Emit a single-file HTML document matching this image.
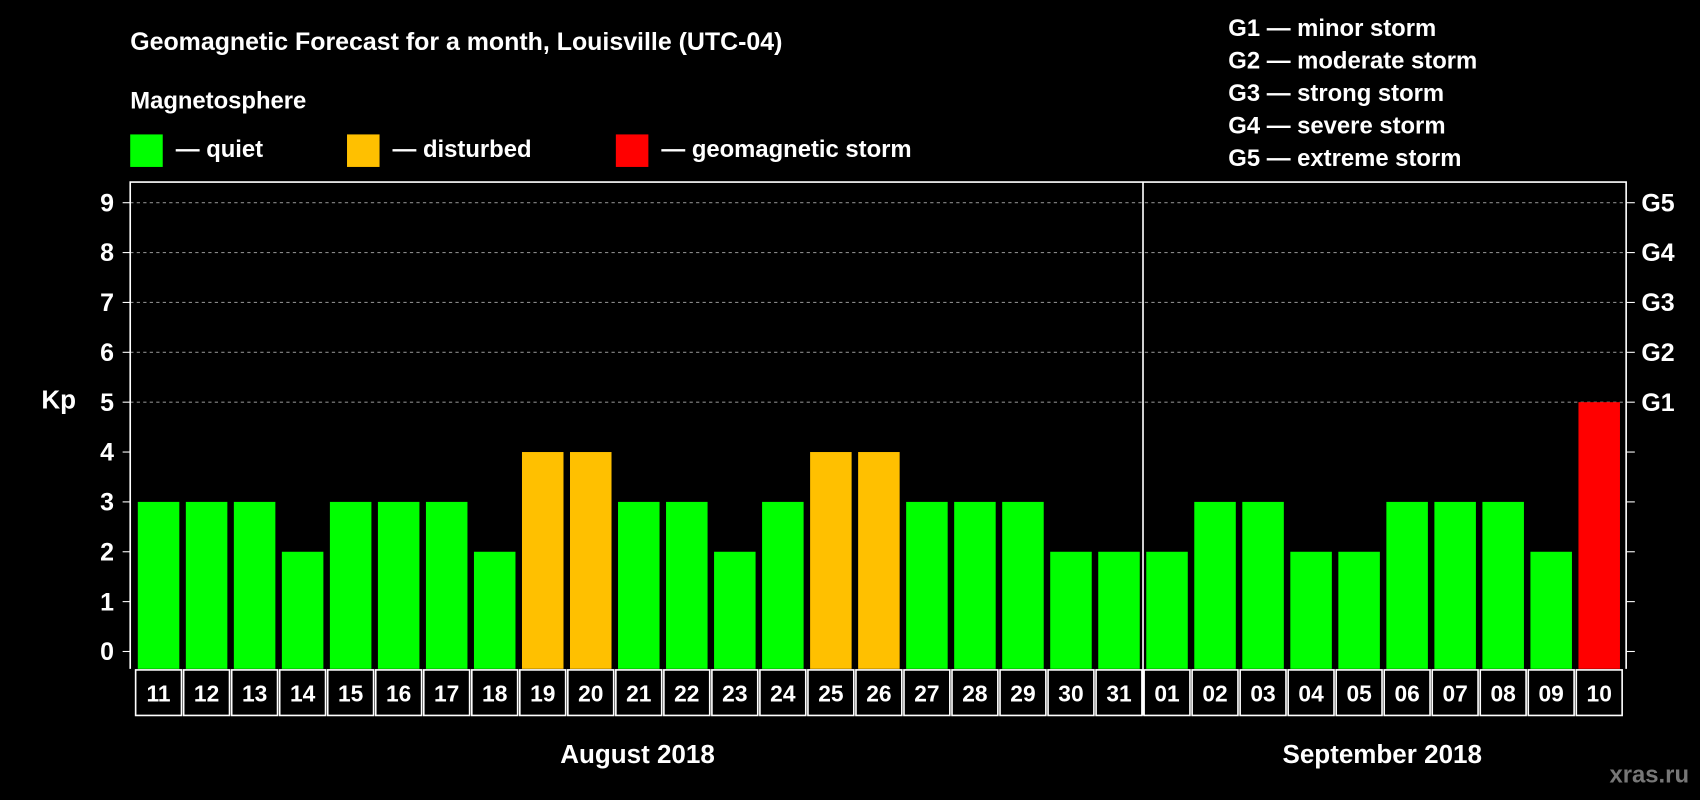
<!DOCTYPE html>
<html><head><meta charset="utf-8"><style>
html,body{margin:0;padding:0;background:#000;}
svg{display:block;}
text{font-family:"Liberation Sans",Arial,sans-serif;font-weight:bold;fill:#fff;}
</style></head><body>
<svg id="chart" width="1700" height="800" viewBox="0 0 1568 738" xmlns="http://www.w3.org/2000/svg">
<rect width="1568" height="738" fill="#000"/>
<text x="120" y="46" font-size="23">Geomagnetic Forecast for a month, Louisville (UTC-04)</text>
<text x="120" y="100" font-size="22">Magnetosphere</text>
<rect x="120" y="124" width="30" height="30" fill="#00ff00"/>
<text x="162" y="145" font-size="22">— quiet</text>
<rect x="320" y="124" width="30" height="30" fill="#ffc000"/>
<text x="362" y="145" font-size="22">— disturbed</text>
<rect x="568" y="124" width="30" height="30" fill="#ff0000"/>
<text x="610" y="145" font-size="22">— geomagnetic storm</text>
<g font-size="22">
<text x="1133" y="33">G1 — minor storm</text>
<text x="1133" y="63">G2 — moderate storm</text>
<text x="1133" y="93">G3 — strong storm</text>
<text x="1133" y="123">G4 — severe storm</text>
<text x="1133" y="153">G5 — extreme storm</text>
</g>
<text x="38" y="377" font-size="24">Kp</text>
<g id="grid"></g>
<g id="bars"></g>
<g id="axes"></g>
<text x="588" y="704" font-size="24" text-anchor="middle">August 2018</text>
<text x="1275" y="704" font-size="24" text-anchor="middle">September 2018</text>
<text x="1558" y="722" font-size="22" text-anchor="end" style="fill:#777">xras.ru</text>
</svg>
<script>
const days = ["11","12","13","14","15","16","17","18","19","20","21","22","23","24","25","26","27","28","29","30","31","01","02","03","04","05","06","07","08","09","10"];
const kpValues = [3,3,3,2,3,3,3,2,4,4,3,3,2,3,4,4,3,3,3,2,2,2,3,3,2,2,3,3,3,2,5];
const yTicks = [0,1,2,3,4,5,6,7,8,9];
const gLabels = ["G1","G2","G3","G4","G5"];
const monthSplit = 21;

const NS = "http://www.w3.org/2000/svg";
const L = 120, R = 1500, T = 168, B = 617, X0 = 124, STEP = 44.3;
const y = v => 601 - 46 * v;
const x = i => X0 + i * STEP;
function mk(tag, attrs, parent) { const e = document.createElementNS(NS, tag); for (const k in attrs) e.setAttribute(k, attrs[k]); parent.appendChild(e); return e; }
const grid = document.getElementById("grid"), bars = document.getElementById("bars"), axes = document.getElementById("axes");

yTicks.forEach(v => {
  if (v >= 5) {
    const g = mk("line", {x1: L, x2: R, y1: y(v), y2: y(v), stroke: "#888", "stroke-dasharray": "3,3", "stroke-width": 1}, grid);
    
    
  }
  const t1 = mk("line", {x1: L - 7, x2: L, y1: y(v), y2: y(v), stroke: "#fff"}, axes);
  
  
  const t2 = mk("line", {x1: R, x2: R + 8, y1: y(v), y2: y(v), stroke: "#fff"}, axes);
  
  
  const lb = mk("text", {x: 105, y: y(v) + 8, "font-size": 23, "text-anchor": "end"}, axes);
  lb.textContent = v;
  
  
  if (v >= 5) {
    const gl = mk("text", {x: 1514, y: y(v) + 8, "font-size": 23}, axes);
    gl.textContent = gLabels[v - 5];
    
    
  }
});

kpValues.forEach((v, i) => {
  const col = v >= 5 ? "#ff0000" : v >= 4 ? "#ffc000" : "#00ff00";
  const b = mk("rect", {x: x(i) + 3, y: y(v), width: STEP - 6, height: B - y(v), fill: col}, bars);
  
  
  const box = mk("rect", {x: x(i) + 1, y: 618, width: STEP - 2, height: 42, fill: "none", stroke: "#fff", "stroke-width": 1.5}, axes);
  
  
  const dl = mk("text", {x: x(i) + STEP / 2, y: 647, "font-size": 21, "text-anchor": "middle"}, axes);
  dl.textContent = days[i];
  
  
});

const frame = mk("path", {d: `M${L},${B} V${T} H${R} V${B}`, fill: "none", stroke: "#fff", "stroke-width": 1.5}, axes);


const sep = mk("line", {x1: x(monthSplit), x2: x(monthSplit), y1: T, y2: 660, stroke: "#fff", "stroke-width": 1.5}, axes);


</script>
</body></html>
